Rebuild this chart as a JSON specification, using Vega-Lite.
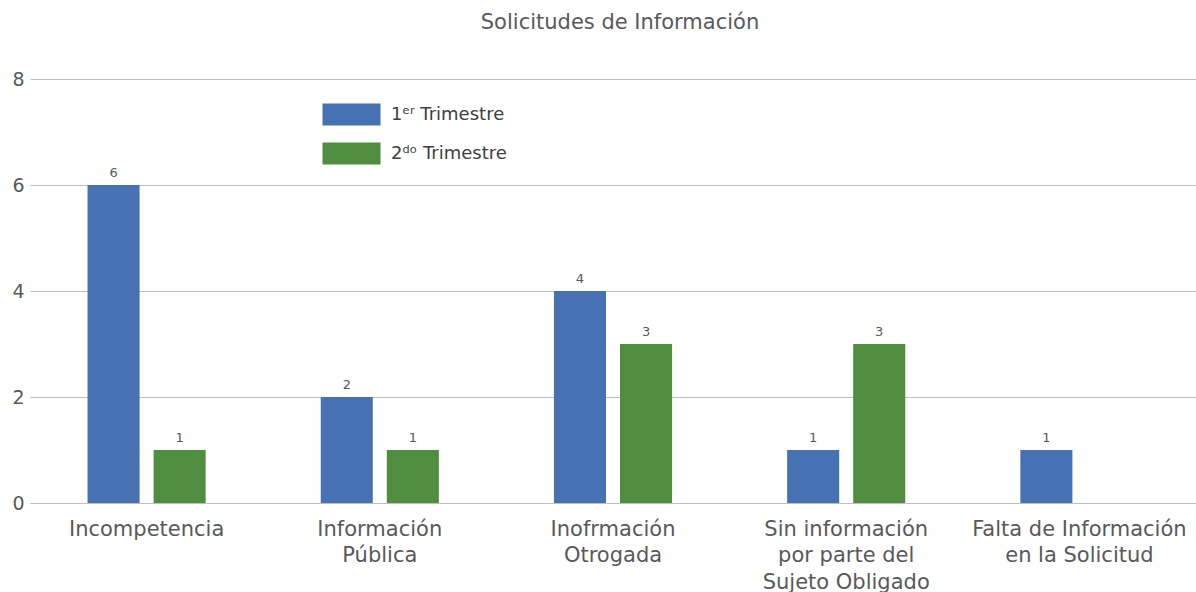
{
  "$schema": "https://vega.github.io/schema/vega-lite/v6.json",
  "width": 1166,
  "height": 424,
  "autosize": {"type": "none"},
  "padding": {"left": 30, "top": 79, "right": 0, "bottom": 89},
  "background": "white",
  "config": {
    "font": "DejaVu Sans",
    "view": {"stroke": null}
  },
  "title": {
    "text": "Solicitudes de Información",
    "fontSize": 21,
    "font": "DejaVu Sans",
    "fontWeight": "normal",
    "color": "#595959",
    "anchor": "middle",
    "offset": 37,
    "dx": 7
  },
  "data": {
    "values": [
      {"categoria": "Incompetencia", "trimestre": "1ᵉʳ Trimestre", "valor": 6},
      {"categoria": "Incompetencia", "trimestre": "2ᵈᵒ Trimestre", "valor": 1},
      {"categoria": "Información|Pública", "trimestre": "1ᵉʳ Trimestre", "valor": 2},
      {"categoria": "Información|Pública", "trimestre": "2ᵈᵒ Trimestre", "valor": 1},
      {"categoria": "Inofrmación|Otrogada", "trimestre": "1ᵉʳ Trimestre", "valor": 4},
      {"categoria": "Inofrmación|Otrogada", "trimestre": "2ᵈᵒ Trimestre", "valor": 3},
      {"categoria": "Sin información|por parte del|Sujeto Obligado", "trimestre": "1ᵉʳ Trimestre", "valor": 1},
      {"categoria": "Sin información|por parte del|Sujeto Obligado", "trimestre": "2ᵈᵒ Trimestre", "valor": 3},
      {"categoria": "Falta de Información|en la Solicitud", "trimestre": "1ᵉʳ Trimestre", "valor": 1}
    ]
  },
  "encoding": {
    "x": {
      "field": "categoria",
      "type": "nominal",
      "sort": null,
      "scale": {"paddingInner": 0, "paddingOuter": 0},
      "axis": {
        "title": null,
        "labelAngle": 0,
        "labelExpr": "split(datum.label, '|')",
        "labelFontSize": 21,
        "labelColor": "#595959",
        "labelLineHeight": 26.5,
        "labelPadding": 15,
        "ticks": false,
        "domain": true,
        "domainColor": "#bfbfbf",
        "domainWidth": 1.2,
        "labelLimit": 300
      }
    },
    "xOffset": {
      "field": "trimestre",
      "type": "nominal",
      "scale": {"domain": ["1ᵉʳ Trimestre", "2ᵈᵒ Trimestre"], "paddingInner": 0.212, "paddingOuter": 0.871}
    },
    "y": {
      "field": "valor",
      "type": "quantitative",
      "scale": {"domain": [0, 8]},
      "axis": {
        "title": null,
        "values": [0, 2, 4, 6, 8],
        "labelFontSize": 19,
        "labelColor": "#595959",
        "labelPadding": 6,
        "ticks": false,
        "domain": false,
        "gridColor": "#bfbfbf",
        "gridWidth": 1.2
      }
    }
  },
  "layer": [
    {
      "mark": {"type": "bar"},
      "encoding": {
        "color": {
          "field": "trimestre",
          "type": "nominal",
          "scale": {"domain": ["1ᵉʳ Trimestre", "2ᵈᵒ Trimestre"], "range": ["#4672b4", "#4e8e3e"]},
          "legend": {
            "title": null,
            "orient": "none",
            "legendX": 294,
            "legendY": 8,
            "symbolType": "M-1.055,-0.4H1.055V0.4H-1.055Z",
            "symbolSize": 3025,
            "symbolStrokeWidth": 0,
            "labelFontSize": 18,
            "labelColor": "#404040",
            "labelOffset": 12,
            "rowPadding": 0
          }
        }
      }
    },
    {
      "mark": {"type": "text", "dy": -12, "fontSize": 13, "color": "#595959"},
      "encoding": {
        "text": {"field": "valor", "type": "quantitative"}
      }
    }
  ]
}
